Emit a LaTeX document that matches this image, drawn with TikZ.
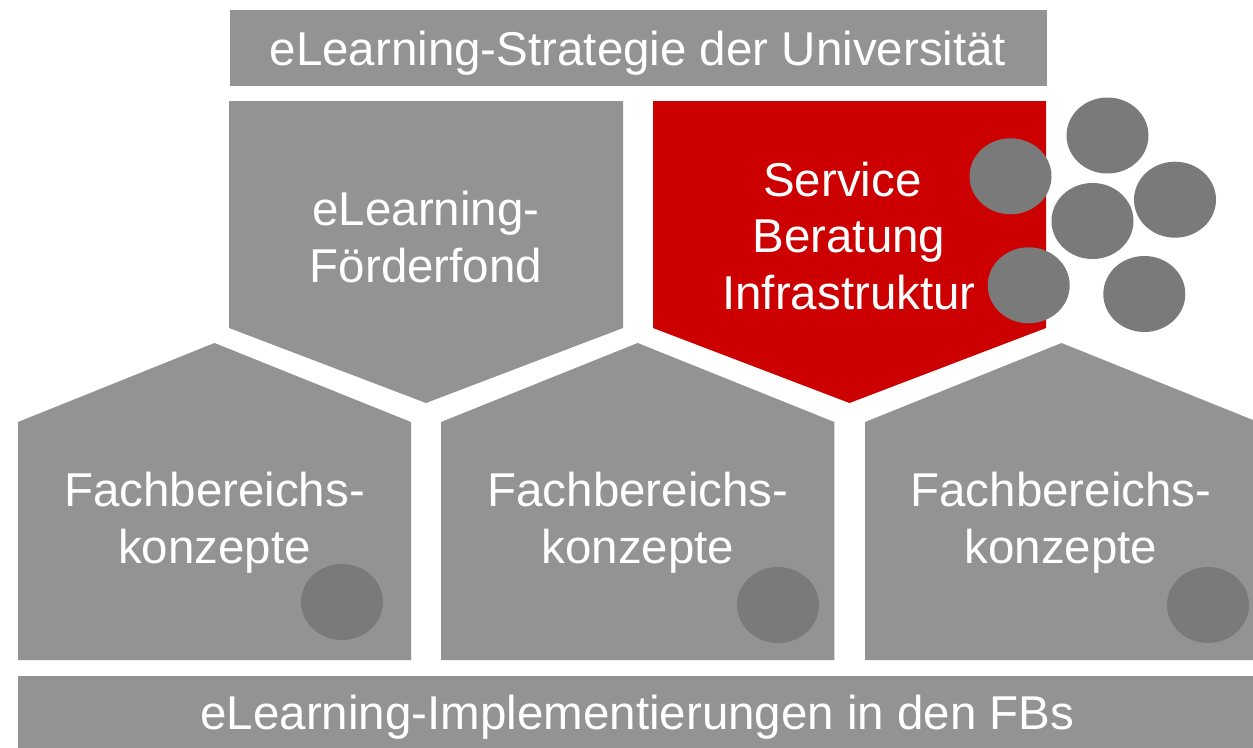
\documentclass[tikz,border=0pt]{standalone}
\usepackage{fontspec}
\setmainfont{Liberation Sans}
\definecolor{boxgray}{RGB}{147,147,147}
\definecolor{dotgray}{RGB}{122,122,122}
\definecolor{unired}{RGB}{204,0,0}
\tikzset{
  panel/.style={fill=boxgray, draw=none},
  redpanel/.style={fill=unired, draw=none},
  dot/.style={fill=dotgray, draw=none},
  lbl/.style={text=white, inner sep=0pt, align=center, font=\fontsize{47.5}{56.7}\selectfont}
}
\begin{document}
\begin{tikzpicture}[x=1pt,y=-1pt]
\useasboundingbox (0,0) rectangle (1253,747);
\begin{scope}
\clip (0,0) rectangle (1253,747);
% top bar
\fill[panel] (230,10) rectangle (1047,86);
% upper pentagons
\fill[panel] (229,101) -- (623,101) -- (623,328) -- (426,403) -- (229,328) -- cycle;
\fill[redpanel] (653,101) -- (1046,101) -- (1046,328) -- (849.5,403) -- (653,328) -- cycle;
% lower houses
\fill[panel] (18,660) -- (18,422) -- (214.5,343) -- (411,422) -- (411,660) -- cycle;
\fill[panel] (441,660) -- (441,422) -- (637.7,343) -- (834.3,422) -- (834.3,660) -- cycle;
\fill[panel] (865,660) -- (865,422) -- (1061.5,343) -- (1258,422) -- (1258,660) -- cycle;
% bottom bar
\fill[panel] (18,676) rectangle (1260,760);
% circles
\fill[dot] (1107.5,135.5) ellipse [x radius=41, y radius=38];
\fill[dot] (1010.5,176.3) ellipse [x radius=41, y radius=38];
\fill[dot] (1092.5,221) ellipse [x radius=41, y radius=38];
\fill[dot] (1175,199.7) ellipse [x radius=41, y radius=38];
\fill[dot] (1028.7,285.3) ellipse [x radius=41, y radius=38];
\fill[dot] (1144.3,294) ellipse [x radius=41, y radius=38];
\fill[dot] (342,602) ellipse [x radius=41, y radius=38];
\fill[dot] (778,605) ellipse [x radius=41, y radius=38];
\fill[dot] (1208,605) ellipse [x radius=41, y radius=38];
\end{scope}
% texts
\node[lbl, anchor=base] (top) at (638,65.7) {eLearning-Strategie der Universität};
\node[lbl] (fond) at (426,237.2) {eLearning-\\Förderfond};
\node[lbl] (serv) at (849,236) {Service\hphantom{\ }\\Beratung\\Infrastruktur};
\node[lbl] (fb1) at (214.5,523) {Fachbereichs-\\konzepte};
\node[lbl] (fb2) at (638,523) {Fachbereichs-\\konzepte};
\node[lbl] (fb3) at (1061,523) {Fachbereichs-\\konzepte};
\node[lbl, anchor=base] (bot) at (637.5,729) {eLearning-Implementierungen in den FBs};
\end{tikzpicture}
\end{document}
